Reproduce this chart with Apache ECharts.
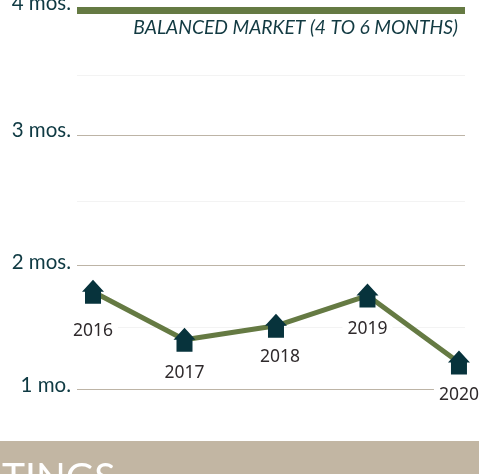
<!DOCTYPE html>
<html>
<head>
<meta charset="utf-8">
<style>html,body{margin:0;padding:0;background:#fff}#c{width:479px;height:474px}</style>
<script src="https://cdn.jsdelivr.net/npm/echarts@6/dist/echarts.min.js"></script>
</head>
<body>
<div id="c"></div>
<script>
const years = [2016, 2017, 2018, 2019, 2020];
const months = [1.77, 1.39, 1.5, 1.74, 1.21];
const gridValues = [1, 1.49, 1.98, 2.49, 3.01, 3.48];
const tickLabelValues = [1, 1.98, 3.01, 4];
const tickLabels = ['1 mo.', '2 mos.', '3 mos.', '4 mos.'];
const balancedValue = 4;
const balancedLabel = 'BALANCED MARKET (4 TO 6 MONTHS)';
const sectionLabel = 'TINGS';

const labelDistance = {2016: 18, 2017: 12, 2018: 10, 2019: 13, 2020: 12};
const labelShift = {2018: 4, 2020: 0};
const labelStyleNames = ['low', 'two', 'mid', 'high'];
const house = 'path://M11 0L22 12L19 12L19 24L3 24L3 12L0 12Z';
const axisText = {fontFamily: 'Lato', fontSize: 20.5, color: '#0f3a43'};
const chart = echarts.init(document.getElementById('c'), null, {renderer: 'canvas'});
chart.setOption({
  animation: false,
  backgroundColor: '#fff',
  grid: {left: 77, right: 14, top: 10, bottom: 85, outerBoundsMode: 'none'},
  title: {
    text: balancedLabel, right: 21, top: 18, padding: 0,
    textStyle: {fontFamily: 'Lato', fontStyle: 'italic', fontWeight: 'normal', fontSize: 19.3, color: '#123a42'}
  },
  xAxis: {
    type: 'value', min: 2015.825, max: 2020.066,
    axisLine: {show: false}, axisTick: {show: false}, axisLabel: {show: false}, splitLine: {show: false}
  },
  yAxis: {
    type: 'value', min: 1, max: 4,
    axisLine: {show: false},
    axisTick: {show: false, customValues: gridValues},
    axisLabel: {
      customValues: tickLabelValues,
      margin: 6, color: '#0f3a43',
      formatter: v => {
        const i = tickLabelValues.indexOf(v);
        return '{' + labelStyleNames[i] + '|' + tickLabels[i] + '}';
      },
      rich: {
        low: {...axisText, padding: [0, 0, 7, 0]},
        two: {...axisText, padding: [0, 0, 6, 0]},
        mid: {...axisText, padding: [0, 0, 10, 0]},
        high: {...axisText, padding: [0, 0, 13, 0]}
      }
    },
    splitLine: {show: true, lineStyle: {width: 1, color: ['#bdb4a6', '#f3f3f3']}}
  },
  series: [{
    type: 'line',
    data: years.map((y, i) => ({
      value: [y, months[i]],
      label: {
        distance: labelDistance[y],
        offset: [labelShift[y] || 0, 0]
      }
    })),
    z: 5,
    symbol: house, symbolSize: [22, 24], symbolOffset: [0, 0],
    showSymbol: true, clip: false,
    lineStyle: {color: '#657a43', width: 5},
    itemStyle: {color: '#07333c', borderWidth: 0},
    label: {
      show: true, position: 'bottom',
      formatter: p => String(p.value[0]),
      fontFamily: 'Noto Sans', fontSize: 17.5, color: '#2f2a2c',
      backgroundColor: '#fff', padding: [0, 5, 0, 5]
    },
    markLine: {
      silent: true, symbol: 'none', animation: false,
      label: {show: false},
      lineStyle: {color: '#657a43', width: 7, type: 'solid'},
      data: [{yAxis: balancedValue}]
    }
  }],
  graphic: [
    {type: 'rect', left: 0, top: 441, shape: {width: 479, height: 33}, style: {fill: '#c2b6a3'}, z: 10},
    {type: 'text', left: 2, top: 459, style: {text: sectionLabel, fill: '#fff', font: '39px Lato'}, z: 11}
  ]
});
</script>
</body>
</html>
